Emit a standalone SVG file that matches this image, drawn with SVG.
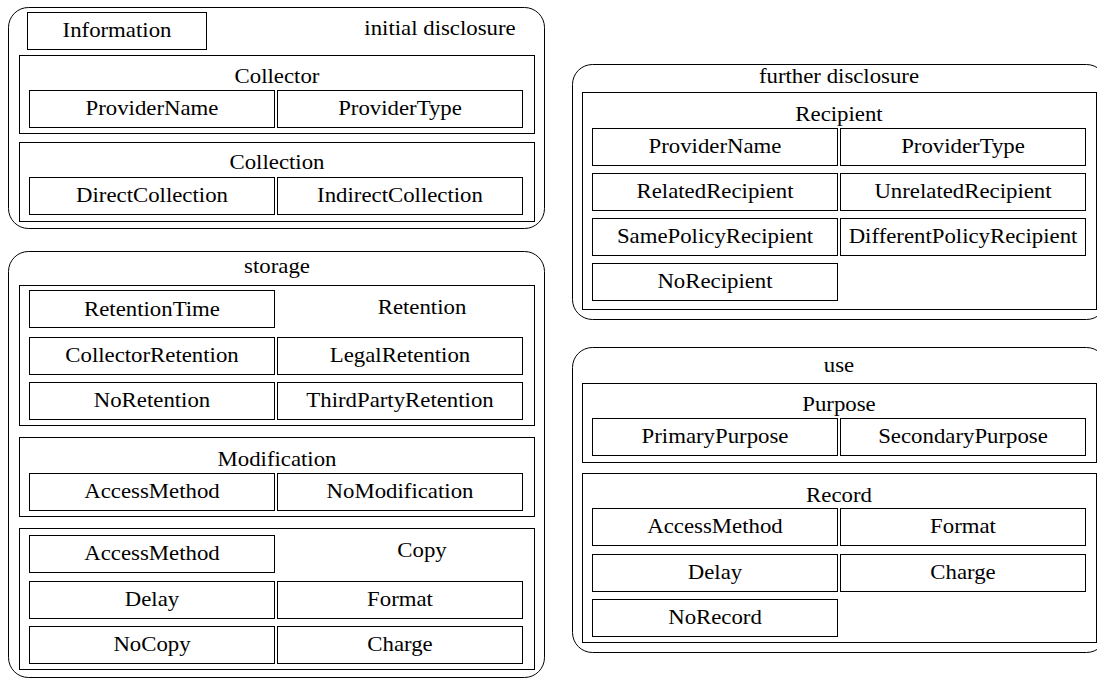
<svg xmlns="http://www.w3.org/2000/svg" width="1097" height="679" viewBox="0 0 1097 679">
<style>
rect{fill:none;stroke:#000;stroke-width:1}
rect.bg{fill:#fff;stroke:none}
rect.outer{fill:#fff}
text{font-family:"Liberation Serif","Times New Roman",serif;font-size:20px;fill:#000;text-anchor:middle}
</style>
<rect class="bg" x="0" y="0" width="1097" height="679"/>
<g id="connectors"/>

<g id="initial-disclosure">
  <rect class="outer" x="8.5" y="7.5" width="536" height="221" rx="20"/>
  <text transform="matrix(1.14 0 0 1 440 0)" x="0" y="35">initial disclosure</text>
  <g id="information">
    <rect x="27.5" y="12.5" width="179" height="37"/>
    <text transform="matrix(1.14 0 0 1 117 0)" x="0" y="37.5">Information</text>
  </g>
  <g id="collector">
    <rect x="19.5" y="55.5" width="515" height="78"/>
    <text transform="matrix(1.14 0 0 1 277 0)" x="0" y="83">Collector</text>
    <g id="collector-providername"><rect x="29.5" y="90.5" width="245" height="37"/><text transform="matrix(1.14 0 0 1 152 0)" x="0" y="115.5">ProviderName</text></g>
    <g id="collector-providertype"><rect x="277.5" y="90.5" width="245" height="37"/><text transform="matrix(1.14 0 0 1 400 0)" x="0" y="115.5">ProviderType</text></g>
  </g>
  <g id="collection">
    <rect x="19.5" y="142.5" width="515" height="79"/>
    <text transform="matrix(1.14 0 0 1 277 0)" x="0" y="169">Collection</text>
    <g id="directcollection"><rect x="29.5" y="177.5" width="245" height="37"/><text transform="matrix(1.14 0 0 1 152 0)" x="0" y="202.5">DirectCollection</text></g>
    <g id="indirectcollection"><rect x="277.5" y="177.5" width="245" height="37"/><text transform="matrix(1.14 0 0 1 400 0)" x="0" y="202.5">IndirectCollection</text></g>
  </g>
</g>

<g id="storage">
  <rect class="outer" x="8.5" y="251.5" width="536" height="426" rx="20"/>
  <text transform="matrix(1.14 0 0 1 277 0)" x="0" y="273">storage</text>
  <g id="retention">
    <rect x="19.5" y="285.5" width="515" height="140"/>
    <text transform="matrix(1.14 0 0 1 422 0)" x="0" y="314">Retention</text>
    <g id="retentiontime"><rect x="29.5" y="290.5" width="245" height="37"/><text transform="matrix(1.14 0 0 1 152 0)" x="0" y="316">RetentionTime</text></g>
    <g id="collectorretention"><rect x="29.5" y="337.5" width="245" height="37"/><text transform="matrix(1.14 0 0 1 152 0)" x="0" y="362.5">CollectorRetention</text></g>
    <g id="legalretention"><rect x="277.5" y="337.5" width="245" height="37"/><text transform="matrix(1.14 0 0 1 400 0)" x="0" y="362.5">LegalRetention</text></g>
    <g id="noretention"><rect x="29.5" y="382.5" width="245" height="37"/><text transform="matrix(1.14 0 0 1 152 0)" x="0" y="407.5">NoRetention</text></g>
    <g id="thirdpartyretention"><rect x="277.5" y="382.5" width="245" height="37"/><text transform="matrix(1.14 0 0 1 400 0)" x="0" y="407.5">ThirdPartyRetention</text></g>
  </g>
  <g id="modification">
    <rect x="19.5" y="437.5" width="515" height="79"/>
    <text transform="matrix(1.14 0 0 1 277 0)" x="0" y="466">Modification</text>
    <g id="modification-accessmethod"><rect x="29.5" y="473.5" width="245" height="37"/><text transform="matrix(1.14 0 0 1 152 0)" x="0" y="498.5">AccessMethod</text></g>
    <g id="nomodification"><rect x="277.5" y="473.5" width="245" height="37"/><text transform="matrix(1.14 0 0 1 400 0)" x="0" y="498.5">NoModification</text></g>
  </g>
  <g id="copy">
    <rect x="19.5" y="528.5" width="515" height="141"/>
    <text transform="matrix(1.14 0 0 1 422 0)" x="0" y="557">Copy</text>
    <g id="copy-accessmethod"><rect x="29.5" y="535.5" width="245" height="37"/><text transform="matrix(1.14 0 0 1 152 0)" x="0" y="560.5">AccessMethod</text></g>
    <g id="copy-delay"><rect x="29.5" y="581.5" width="245" height="37"/><text transform="matrix(1.14 0 0 1 152 0)" x="0" y="606.5">Delay</text></g>
    <g id="copy-format"><rect x="277.5" y="581.5" width="245" height="37"/><text transform="matrix(1.14 0 0 1 400 0)" x="0" y="606.5">Format</text></g>
    <g id="nocopy"><rect x="29.5" y="626.5" width="245" height="37"/><text transform="matrix(1.14 0 0 1 152 0)" x="0" y="651.5">NoCopy</text></g>
    <g id="copy-charge"><rect x="277.5" y="626.5" width="245" height="37"/><text transform="matrix(1.14 0 0 1 400 0)" x="0" y="651.5">Charge</text></g>
  </g>
</g>

<g id="further-disclosure">
  <rect class="outer" x="572.5" y="64.5" width="534" height="255" rx="20"/>
  <text transform="matrix(1.14 0 0 1 839 0)" x="0" y="83">further disclosure</text>
  <g id="recipient">
    <rect x="582.5" y="92.5" width="514" height="217"/>
    <text transform="matrix(1.14 0 0 1 839 0)" x="0" y="121">Recipient</text>
    <g id="recipient-providername"><rect x="592.5" y="128.5" width="245" height="37"/><text transform="matrix(1.14 0 0 1 715 0)" x="0" y="153.5">ProviderName</text></g>
    <g id="recipient-providertype"><rect x="840.5" y="128.5" width="245" height="37"/><text transform="matrix(1.14 0 0 1 963 0)" x="0" y="153.5">ProviderType</text></g>
    <g id="relatedrecipient"><rect x="592.5" y="173.5" width="245" height="37"/><text transform="matrix(1.14 0 0 1 715 0)" x="0" y="198.5">RelatedRecipient</text></g>
    <g id="unrelatedrecipient"><rect x="840.5" y="173.5" width="245" height="37"/><text transform="matrix(1.14 0 0 1 963 0)" x="0" y="198.5">UnrelatedRecipient</text></g>
    <g id="samepolicyrecipient"><rect x="592.5" y="218.5" width="245" height="37"/><text transform="matrix(1.14 0 0 1 715 0)" x="0" y="243.5">SamePolicyRecipient</text></g>
    <g id="differentpolicyrecipient"><rect x="840.5" y="218.5" width="245" height="37"/><text transform="matrix(1.14 0 0 1 963 0)" x="0" y="243.5">DifferentPolicyRecipient</text></g>
    <g id="norecipient"><rect x="592.5" y="263.5" width="245" height="37"/><text transform="matrix(1.14 0 0 1 715 0)" x="0" y="288.5">NoRecipient</text></g>
  </g>
</g>

<g id="use">
  <rect class="outer" x="572.5" y="347.5" width="534" height="305" rx="20"/>
  <text transform="matrix(1.14 0 0 1 839 0)" x="0" y="372">use</text>
  <g id="purpose">
    <rect x="582.5" y="383.5" width="514" height="79"/>
    <text transform="matrix(1.14 0 0 1 839 0)" x="0" y="411">Purpose</text>
    <g id="primarypurpose"><rect x="592.5" y="418.5" width="245" height="37"/><text transform="matrix(1.14 0 0 1 715 0)" x="0" y="443.5">PrimaryPurpose</text></g>
    <g id="secondarypurpose"><rect x="840.5" y="418.5" width="245" height="37"/><text transform="matrix(1.14 0 0 1 963 0)" x="0" y="443.5">SecondaryPurpose</text></g>
  </g>
  <g id="record">
    <rect x="582.5" y="473.5" width="514" height="169"/>
    <text transform="matrix(1.14 0 0 1 839 0)" x="0" y="502">Record</text>
    <g id="record-accessmethod"><rect x="592.5" y="508.5" width="245" height="37"/><text transform="matrix(1.14 0 0 1 715 0)" x="0" y="533.5">AccessMethod</text></g>
    <g id="record-format"><rect x="840.5" y="508.5" width="245" height="37"/><text transform="matrix(1.14 0 0 1 963 0)" x="0" y="533.5">Format</text></g>
    <g id="record-delay"><rect x="592.5" y="554.5" width="245" height="37"/><text transform="matrix(1.14 0 0 1 715 0)" x="0" y="579.5">Delay</text></g>
    <g id="record-charge"><rect x="840.5" y="554.5" width="245" height="37"/><text transform="matrix(1.14 0 0 1 963 0)" x="0" y="579.5">Charge</text></g>
    <g id="norecord"><rect x="592.5" y="599.5" width="245" height="37"/><text transform="matrix(1.14 0 0 1 715 0)" x="0" y="624.5">NoRecord</text></g>
  </g>
</g>
</svg>
